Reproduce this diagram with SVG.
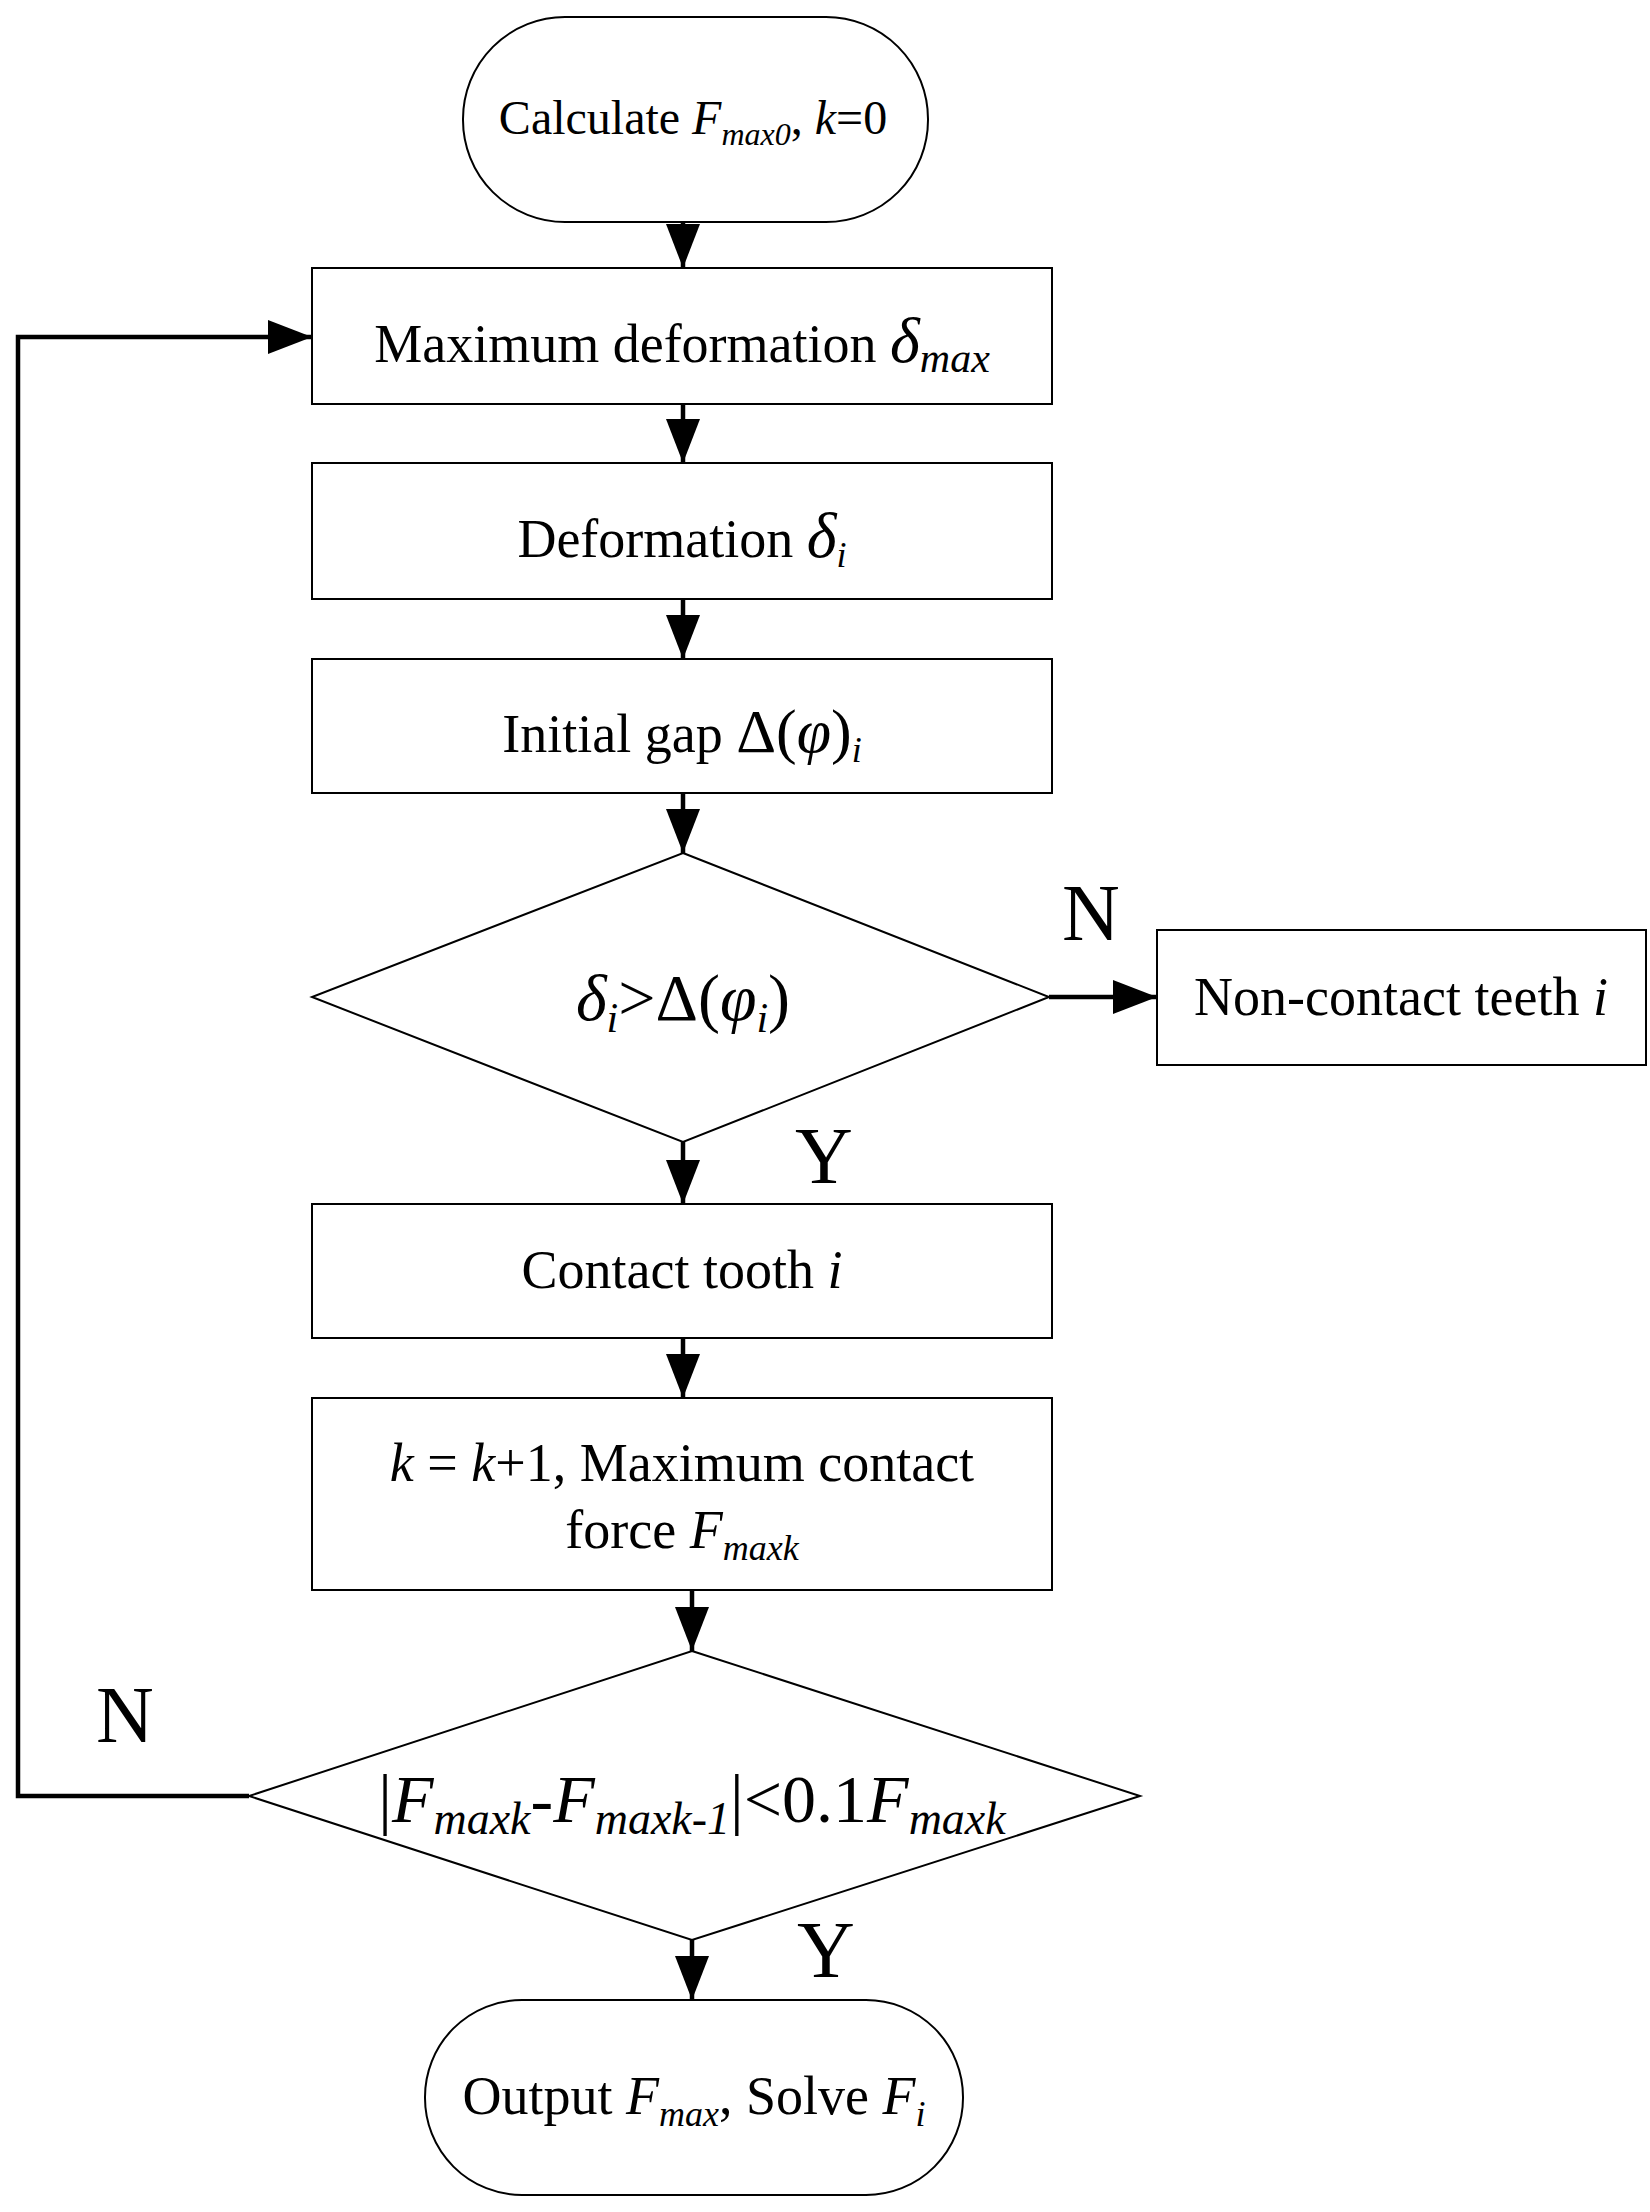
<svg xmlns="http://www.w3.org/2000/svg" width="1650" height="2212" viewBox="0 0 1650 2212">
<style>
.n{fill:#fff;stroke:#000;stroke-width:2}
.c{fill:none;stroke:#000;stroke-width:4.5}
text{font-family:"Liberation Serif","Times New Roman",serif;fill:#000}
.m{font-size:54px}
.t{text-anchor:middle}
.i{font-style:italic}
.s{font-size:36px;font-style:italic}
.d{font-size:66px}
.L{font-size:80px}
</style>
<defs>
<marker id="b" viewBox="0 0 10 8" refX="10" refY="4" markerWidth="44" markerHeight="34" orient="auto" markerUnits="userSpaceOnUse" preserveAspectRatio="none"><path d="M0,0L10,4L0,8z" fill="#000"/></marker></defs>
<rect width="1650" height="2212" fill="#fff"/>
<g id="start"><rect class="n" x="463" y="17" width="465" height="205" rx="102" ry="102"/><text class="t" x="693" y="134" style="font-size:48px">Calculate <tspan class="i">F</tspan><tspan class="s" style="font-size:32px" dy="11">max0</tspan><tspan dy="-11">, </tspan><tspan class="i">k</tspan>=0</text></g>
<g id="box1"><rect class="n" x="312" y="268" width="740" height="136"/><text class="t m" x="682" y="362">Maximum deformation <tspan class="i" style="font-size:64px">δ</tspan><tspan class="s" style="font-size:42px" dy="10">max</tspan></text></g>
<g id="box2"><rect class="n" x="312" y="463" width="740" height="136"/><text class="t m" x="682" y="557">Deformation <tspan class="i" style="font-size:64px">δ</tspan><tspan class="s" dy="10">i</tspan></text></g>
<g id="box3"><rect class="n" x="312" y="659" width="740" height="134"/><text class="t m" x="682" y="752">Initial gap <tspan style="font-size:62px">Δ(</tspan><tspan class="i" style="font-size:62px">φ</tspan><tspan style="font-size:62px">)</tspan><tspan class="s" dy="10">i</tspan></text></g>
<g id="d1"><polygon class="n" points="683,853 1049,997 683,1142 312,997"/><text class="t d" x="683" y="1020"><tspan class="i">δ</tspan><tspan class="s" style="font-size:42px" dy="12">i</tspan><tspan dy="-12">&gt;Δ(</tspan><tspan class="i">φ</tspan><tspan class="s" style="font-size:42px" dy="12">i</tspan><tspan dy="-12">)</tspan></text></g>
<g id="nc"><rect class="n" x="1157" y="930" width="489" height="135"/><text class="t m" x="1401" y="1015">Non-contact teeth <tspan class="i">i</tspan></text></g>
<g id="box4"><rect class="n" x="312" y="1204" width="740" height="134"/><text class="t m" x="682" y="1288">Contact tooth <tspan class="i">i</tspan></text></g>
<g id="box5"><rect class="n" x="312" y="1398" width="740" height="192"/><text class="t m" x="682" y="1481"><tspan class="i">k</tspan> = <tspan class="i">k</tspan>+1, Maximum contact</text><text class="t m" x="682" y="1548">force <tspan class="i">F</tspan><tspan class="s" dy="12">maxk</tspan></text></g>
<g id="d2"><polygon class="n" points="692,1651 1140,1796 692,1940 249,1796"/><text class="t" x="692" y="1822" style="font-size:68px">|<tspan class="i">F</tspan><tspan class="s" style="font-size:46px" dy="12">maxk</tspan><tspan dy="-12">-</tspan><tspan class="i">F</tspan><tspan class="s" style="font-size:46px" dy="12">maxk-1</tspan><tspan dy="-12">|&lt;0.1</tspan><tspan class="i">F</tspan><tspan class="s" style="font-size:46px" dy="12">maxk</tspan></text></g>
<g id="end"><rect class="n" x="425" y="2000" width="538" height="195" rx="97" ry="97"/><text class="t m" x="694" y="2114">Output <tspan class="i">F</tspan><tspan class="s" dy="12">max</tspan><tspan dy="-12">, Solve </tspan><tspan class="i">F</tspan><tspan class="s" dy="12">i</tspan></text></g>
<g id="connectors">
<line class="c" x1="683" y1="222" x2="683" y2="268" marker-end="url(#b)"/>
<line class="c" x1="683" y1="404" x2="683" y2="463" marker-end="url(#b)"/>
<line class="c" x1="683" y1="599" x2="683" y2="659" marker-end="url(#b)"/>
<line class="c" x1="683" y1="793" x2="683" y2="853" marker-end="url(#b)"/>
<line class="c" x1="1049" y1="997" x2="1157" y2="997" marker-end="url(#b)"/>
<line class="c" x1="683" y1="1142" x2="683" y2="1204" marker-end="url(#b)"/>
<line class="c" x1="683" y1="1338" x2="683" y2="1398" marker-end="url(#b)"/>
<line class="c" x1="692" y1="1590" x2="692" y2="1651" marker-end="url(#b)"/>
<line class="c" x1="692" y1="1940" x2="692" y2="2000" marker-end="url(#b)"/>
<polyline class="c" points="249,1796 18,1796 18,337 312,337" marker-end="url(#b)"/>
<text class="L" x="1062" y="940">N</text>
<text class="L" x="795" y="1183">Y</text>
<text class="L" x="96" y="1742">N</text>
<text class="L" x="797" y="1977">Y</text>
</g>
</svg>
